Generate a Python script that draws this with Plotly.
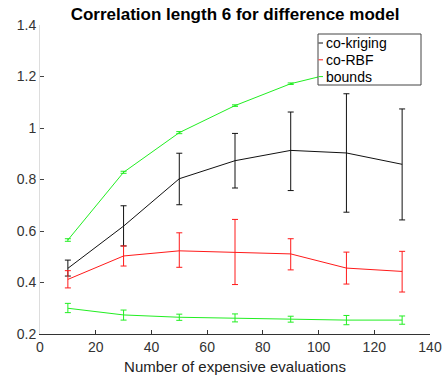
import plotly.graph_objects as go

x = [10, 30, 50, 70, 90, 110, 130]

# co-kriging
ck_mean = [0.455, 0.619, 0.803, 0.873, 0.913, 0.903, 0.859]
ck_hi = [0.487, 0.698, 0.902, 0.979, 1.062, 1.133, 1.074]
ck_lo = [0.425, 0.542, 0.702, 0.767, 0.757, 0.673, 0.643]

# co-RBF
rbf_mean = [0.412, 0.503, 0.523, 0.516, 0.511, 0.456, 0.443]
rbf_hi = [0.446, 0.542, 0.593, 0.645, 0.570, 0.518, 0.521]
rbf_lo = [0.379, 0.464, 0.459, 0.392, 0.449, 0.394, 0.363]

# bounds (upper and lower)
ub_mean = [0.565, 0.828, 0.982, 1.087, 1.172, 1.225, 1.245]
ub_err = [0.005, 0.004, 0.004, 0.003, 0.003, 0.003, 0.003]
lb_mean = [0.300, 0.274, 0.265, 0.262, 0.257, 0.254, 0.254]
lb_hi = [0.319, 0.293, 0.277, 0.278, 0.269, 0.272, 0.270]
lb_lo = [0.283, 0.254, 0.253, 0.247, 0.246, 0.236, 0.238]

legend_names = ["co-kriging", "co-RBF", "bounds"]

BLACK = "#111111"
RED = "#ff1a1a"
GREEN = "#22ee22"
legend_colors = [BLACK, RED, GREEN]

def eb(mean, hi, lo, color):
    return dict(type="data", symmetric=False,
                array=[h - m for h, m in zip(hi, mean)],
                arrayminus=[m - l for m, l in zip(mean, lo)],
                color=color, thickness=1, width=3)

fig = go.Figure()
fig.add_trace(go.Scatter(x=x, y=ck_mean, mode="lines", name=legend_names[0],
                         line=dict(color=BLACK, width=1),
                         error_y=eb(ck_mean, ck_hi, ck_lo, BLACK)))
fig.add_trace(go.Scatter(x=x, y=rbf_mean, mode="lines", name=legend_names[1],
                         line=dict(color=RED, width=1),
                         error_y=eb(rbf_mean, rbf_hi, rbf_lo, RED)))
fig.add_trace(go.Scatter(x=x, y=ub_mean, mode="lines", name=legend_names[2],
                         line=dict(color=GREEN, width=1),
                         error_y=dict(type="data", array=ub_err, color=GREEN,
                                      thickness=1, width=3)))
fig.add_trace(go.Scatter(x=x, y=lb_mean, mode="lines", name=legend_names[2],
                         line=dict(color=GREEN, width=1),
                         error_y=eb(lb_mean, lb_hi, lb_lo, GREEN)))

# Plot area in pixels: x 40..430, y 25..334
L, R, T, B = 40, 430, 25, 334
W, H = R - L, B - T
def px(xp):
    return (xp - L) / W
def py(yp):
    return (B - yp) / H

shapes = [dict(type="rect", xref="paper", yref="paper",
               x0=px(318), x1=px(421), y0=py(85), y1=py(34),
               line=dict(color="#444", width=1), fillcolor="white", layer="above")]
annotations = []
for i, (nm, col) in enumerate(zip(legend_names, legend_colors)):
    yc = 43 + i * 16.8
    shapes.append(dict(type="line", xref="paper", yref="paper",
                       x0=px(318.5), x1=px(323), y0=py(yc), y1=py(yc),
                       line=dict(color=col, width=1), layer="above"))
    annotations.append(dict(text=nm, xref="paper", yref="paper",
                            x=px(323.5), y=py(yc), xanchor="left", yanchor="middle",
                            showarrow=False, font=dict(size=14, color="#000")))

fig.update_layout(
    width=442, height=377,
    margin=dict(l=L, r=442 - R, t=T, b=377 - B, autoexpand=False),
    paper_bgcolor="white", plot_bgcolor="white",
    font=dict(family="Liberation Sans, Arial, sans-serif", size=13, color="#222"),
    title=dict(text="<b>Correlation length 6 for difference model</b>",
               x=235 / 442, xanchor="center", y=1 - 14 / 377, yanchor="middle",
               font=dict(size=17, color="#000")),
    showlegend=False,
    shapes=shapes,
    annotations=annotations,
    xaxis=dict(range=[0, 140], dtick=20, showgrid=False, zeroline=False,
               automargin=False,
               showline=True, linecolor="#333", linewidth=1,
               ticks="inside", ticklen=4, tickcolor="#333",
               tickfont=dict(size=14, color="#333"),
               title=dict(text="Number of expensive evaluations",
                          font=dict(size=15, color="#222"), standoff=7)),
    yaxis=dict(range=[0.2, 1.4], dtick=0.2, showgrid=False, zeroline=False,
               automargin=False,
               showline=True, linecolor="#dddddd", linewidth=1,
               ticks="inside", ticklen=4, tickcolor="#444",
               tickfont=dict(size=14, color="#333")),
)

fig.write_html("out.html")
